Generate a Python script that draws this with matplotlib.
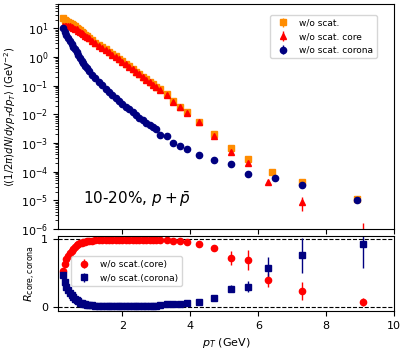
import matplotlib
matplotlib.use("Agg")
import matplotlib.pyplot as plt

# pT bins (GeV) shared by the dense part of the spectra
pt = [0.25, 0.30, 0.35, 0.40, 0.45, 0.50, 0.55, 0.60, 0.65, 0.70, 0.75, 0.80, 0.85, 0.90, 0.95,
      1.0, 1.1, 1.2, 1.3, 1.4, 1.5, 1.6, 1.7, 1.8, 1.9, 2.0, 2.1, 2.2, 2.3, 2.4, 2.5, 2.6, 2.7,
      2.8, 2.9, 3.0, 3.1, 3.3, 3.5, 3.7, 3.9, 4.25, 4.7, 5.2, 5.7]

# w/o scat. (total)
pt_all = pt + [6.4, 7.3, 8.9]
y_all = [22.0, 19.9, 18.2, 16.6, 15.3, 14.1, 12.8, 11.6, 10.6, 9.5, 8.5, 7.6, 6.8, 6.0, 5.3,
         4.73, 3.84, 3.18, 2.64, 2.2, 1.82, 1.51, 1.25, 1.04, 0.86, 0.713, 0.579, 0.475, 0.382,
         0.309, 0.253, 0.206, 0.167, 0.136, 0.110, 0.090, 0.074, 0.050, 0.0285, 0.0186, 0.0121,
         0.0056, 0.0021, 6.9e-4, 2.8e-4, 1.0e-4, 4.3e-5, 1.1e-5]

# w/o scat. core
pt_core = pt + [6.3, 7.3, 9.1]
y_core = [12.0, 12.3, 12.3, 12.0, 11.7, 11.2, 10.5, 9.8, 9.1, 8.3, 7.6, 6.9, 6.2, 5.5, 4.9,
          4.4, 3.6, 3.0, 2.5, 2.1, 1.74, 1.45, 1.20, 1.0, 0.83, 0.69, 0.56, 0.46, 0.37, 0.30,
          0.245, 0.20, 0.162, 0.132, 0.107, 0.087, 0.072, 0.048, 0.0275, 0.0178, 0.0115,
          0.0052, 0.0018, 5.0e-4, 1.95e-4, 4.2e-5, 8.9e-6, 5e-7]
err_core_lo = [0] * len(pt) + [0, 4.5e-6, 4e-7]
err_core_hi = [0] * len(pt) + [0, 3.7e-6, 1.1e-6]

# w/o scat. corona
pt_cor = pt + [6.5, 7.3, 8.9]
y_cor = [10.0, 7.6, 5.9, 4.6, 3.6, 2.9, 2.3, 1.82, 1.45, 1.15, 0.91, 0.74, 0.60, 0.49, 0.40,
         0.33, 0.24, 0.178, 0.135, 0.102, 0.079, 0.062, 0.048, 0.037, 0.0295, 0.0234, 0.0186,
         0.0148, 0.0117, 0.0093, 0.0076, 0.0062, 0.0050, 0.0042, 0.0035, 0.0030, 0.0019,
         0.0017, 0.00102, 0.00079, 0.00063, 0.00039, 0.00026, 0.00019, 8.5e-5, 6e-5, 3.4e-5,
         1.0e-5]

# ratios
pt_r = pt + [6.3, 7.3, 9.1]
r_core = [0.53, 0.63, 0.70, 0.755, 0.795, 0.83, 0.86, 0.885, 0.905, 0.92, 0.935, 0.945, 0.955,
          0.962, 0.968, 0.973, 0.978, 0.982, 0.985, 0.987, 0.988, 0.988, 0.989, 0.989, 0.99,
          0.99, 0.99, 0.99, 0.99, 0.99, 0.99, 0.99, 0.99, 0.99, 0.99, 0.99, 0.985, 0.982, 0.978,
          0.972, 0.96, 0.93, 0.87, 0.72, 0.69, 0.40, 0.23, 0.07]
r_core_err = [0] * 42 + [0.04, 0.10, 0.15, 0.10, 0.13, 0.06]
r_cor = [0.47, 0.37, 0.30, 0.245, 0.205, 0.17, 0.14, 0.115, 0.095, 0.08, 0.065, 0.055, 0.045,
         0.038, 0.032, 0.027, 0.022, 0.018, 0.015, 0.013, 0.012, 0.012, 0.011, 0.011, 0.01,
         0.01, 0.01, 0.01, 0.01, 0.01, 0.01, 0.01, 0.01, 0.012, 0.012, 0.012, 0.035, 0.037,
         0.04, 0.045, 0.055, 0.07, 0.13, 0.27, 0.30, 0.58, 0.76, 0.92]
r_cor_err = [0] * 42 + [0.02, 0.05, 0.085, 0.16, 0.26, 0.35]

plt.rcParams["font.size"] = 8

fig = plt.figure(figsize=(4.07, 3.49), dpi=100)
ax1 = fig.add_axes([0.1425, 0.3438, 0.8256, 0.6447])
ax2 = fig.add_axes([0.1425, 0.1089, 0.8256, 0.2149], sharex=ax1)

ms = 4.5
ax1.errorbar(pt_all, y_all, yerr=[[0] * len(pt_all), [0] * len(pt_all)], fmt="s",
             color="darkorange", ms=ms, elinewidth=1, label="w/o scat.")
ax1.errorbar(pt_core, y_core, yerr=[err_core_lo, err_core_hi], fmt="^", color="red",
             ms=ms, elinewidth=1, label="w/o scat. core")
ax1.errorbar(pt_cor, y_cor, yerr=[[0] * len(pt_cor), [0] * len(pt_cor)], fmt="o",
             color="navy", ms=ms, elinewidth=1, label="w/o scat. corona")
ax1.set_yscale("log")
ax1.set_ylim(1e-6, 70)
ax1.set_xlim(0.1, 10)
ax1.set_ylabel(r"$\langle(1/2\pi)dN/dyp_Tdp_T\rangle$ (GeV$^{-2}$)", fontsize=7.3,
               labelpad=2)
ax1.tick_params(labelbottom=False)
ax1.legend(loc="upper right", bbox_to_anchor=(0.948, 0.951), borderaxespad=0,
           fontsize=6.5)
ax1.text(0.075, 0.13, r"10-20%, $p+\bar{p}$", transform=ax1.transAxes, fontsize=11,
         va="center")

ax2.axhline(1, color="k", ls="--", lw=0.8)
ax2.axhline(0, color="k", ls="--", lw=0.8)
ax2.errorbar(pt_r, r_core, yerr=r_core_err, fmt="o", color="red", ms=ms, elinewidth=1,
             label="w/o scat.(core)")
ax2.errorbar(pt_r, r_cor, yerr=r_cor_err, fmt="s", color="navy", ms=ms, elinewidth=1,
             label="w/o scat.(corona)")
ax2.set_ylim(-0.06, 1.045)
ax2.set_yticks([0, 1])
ax2.set_xticks([2, 4, 6, 8, 10])
ax2.set_xlabel(r"$p_T$ (GeV)")
ax2.set_ylabel(r"$R_{\rm core,corona}$", labelpad=2)
ax2.legend(loc="center left", bbox_to_anchor=(0.04, 0.53), borderaxespad=0, fontsize=6.5)

fig.savefig("out.png", dpi=100)
